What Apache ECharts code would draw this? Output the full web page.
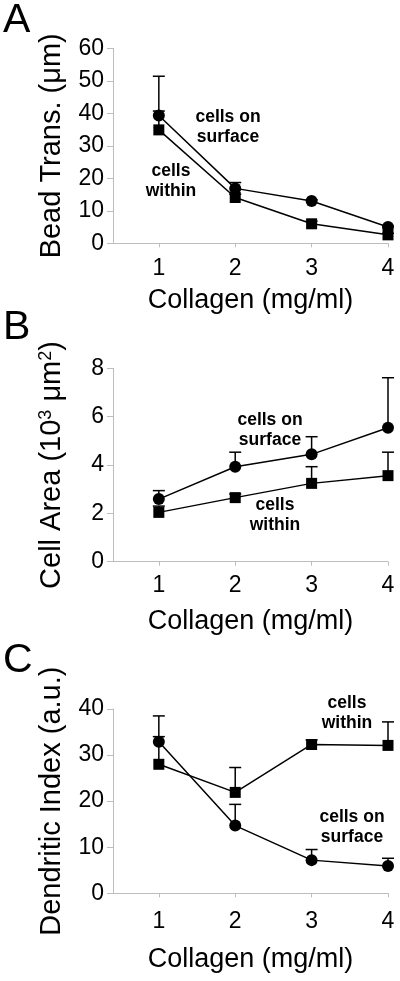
<!DOCTYPE html>
<html>
<head>
<meta charset="utf-8">
<script src="https://cdn.jsdelivr.net/npm/echarts@6/dist/echarts.min.js"></script>
<style>html,body{margin:0;padding:0;background:#fff}#c{width:400px;height:981px}</style>
</head>
<body>
<div id="c"></div>
<script>
const xValues = [1, 2, 3, 4];
const xTickLabels = [1, 2, 3, 4];

// Panel A: Bead translocation (um)
const beadSurface = [39.3, 16.9, 13.0, 5.0];
const beadSurfaceErr = [12.1, 1.8, 0.4, 0.3];
const beadWithin = [34.9, 14.1, 6.0, 2.6];
const beadWithinErr = [5.8, 1.0, 0.8, 0.5];

// Panel B: Cell area (10^3 um^2)
const areaSurface = [2.59, 3.93, 4.44, 5.54];
const areaSurfaceErr = [0.35, 0.6, 0.73, 2.07];
const areaWithin = [2.04, 2.65, 3.24, 3.56];
const areaWithinErr = [0.26, 0.15, 0.69, 0.97];

// Panel C: Dendritic index (a.u.)
const dendSurface = [32.9, 14.7, 7.2, 5.9];
const dendSurfaceErr = [5.6, 4.6, 2.3, 1.7];
const dendWithin = [28.0, 21.9, 32.3, 32.1];
const dendWithinErr = [6.0, 5.4, 1.0, 5.1];

const FONT = 'Liberation Sans, Arial, sans-serif';
const AXIS_GRAY = '#bdbdbd';

function pts(vals) { return xValues.map((x, i) => [x, vals[i]]); }
function errPts(vals, errs) { return xValues.map((x, i) => [x, vals[i], errs[i]]); }

function errSeries(idx, vals, errs) {
  return {
    type: 'custom', xAxisIndex: idx, yAxisIndex: idx, z: 1, silent: true,
    data: errPts(vals, errs),
    renderItem: function (params, api) {
      const x = api.value(0), m = api.value(1), e = api.value(2);
      const p0 = api.coord([x, m]);
      const p1 = api.coord([x, m + e]);
      const st = { stroke: '#000', lineWidth: 1.5 };
      return {
        type: 'group',
        children: [
          { type: 'line', shape: { x1: p0[0], y1: p0[1], x2: p1[0], y2: p1[1] }, style: st },
          { type: 'line', shape: { x1: p1[0] - 6, y1: p1[1], x2: p1[0] + 6, y2: p1[1] }, style: st }
        ]
      };
    }
  };
}
function lineSeries(idx, vals, sym) {
  return {
    type: 'line', xAxisIndex: idx, yAxisIndex: idx, z: 3,
    data: pts(vals), symbol: sym, symbolSize: sym === 'circle' ? 12 : 11,
    itemStyle: { color: '#000' }, lineStyle: { color: '#000', width: 1.5 },
    animation: false
  };
}

const grids = [
  { left: 113, top: 48.3, width: 275, height: 195 },
  { left: 113, top: 368.3, width: 275, height: 193.4 },
  { left: 113, top: 709, width: 275, height: 184.3 }
];
const labelMargins = [14, 12, 17];
const nameGapsX = [44, 46, 53];

const xAxes = grids.map((g, i) => ({
  type: 'value', gridIndex: i, min: 0.4, max: 4,
  name: 'Collagen (mg/ml)', nameLocation: 'middle', nameGap: nameGapsX[i],
  nameTextStyle: { fontSize: 27, fontFamily: FONT, color: '#000' },
  axisLine: { lineStyle: { color: AXIS_GRAY, width: 1 } },
  axisTick: { show: true, customValues: xTickLabels, length: 4, lineStyle: { color: AXIS_GRAY } },
  axisLabel: { customValues: xTickLabels, fontSize: 23, fontFamily: FONT, color: '#000', margin: labelMargins[i] },
  splitLine: { show: false }
}));

const yCommon = {
  type: 'value', min: 0, nameLocation: 'middle', nameRotate: 90, nameGap: 47,
  nameTextStyle: { fontSize: 29, fontFamily: FONT, color: '#000' },
  axisLine: { show: true, lineStyle: { color: AXIS_GRAY, width: 1 } },
  axisTick: { show: true, length: 6, lineStyle: { color: AXIS_GRAY } },
  axisLabel: { fontSize: 23, fontFamily: FONT, color: '#000', margin: 9 },
  splitLine: { show: false }
};
const yAxes = [
  Object.assign({}, yCommon, { gridIndex: 0, max: 60, interval: 10, name: 'Bead Trans. (μm)' }),
  Object.assign({}, yCommon, {
    gridIndex: 1, max: 8, interval: 2,
    name: 'Cell Area (10{sup|3} μm{sup|2})',
    nameTextStyle: {
      fontSize: 29, fontFamily: FONT, color: '#000',
      rich: { sup: { fontSize: 18, fontFamily: FONT, color: '#000', verticalAlign: 'top', lineHeight: 29 } }
    }
  }),
  Object.assign({}, yCommon, { gridIndex: 2, max: 40, interval: 10, name: 'Dendritic Index (a.u.)' })
];

function txt(x, y, t, size, bold) {
  return {
    type: 'text', x: x, y: y, z: 10,
    style: { text: t, fontSize: size, fontWeight: bold ? 'bold' : 'normal', fontFamily: FONT, fill: '#000', align: 'center', verticalAlign: 'middle', lineHeight: 20 }
  };
}

const option = {
  animation: false,
  backgroundColor: '#fff',
  grid: grids,
  xAxis: xAxes,
  yAxis: yAxes,
  graphic: [
    { type: 'text', x: 3, y: 0, style: { text: 'A', fontSize: 41, fontFamily: FONT, fill: '#000' } },
    { type: 'text', x: 3, y: 307, style: { text: 'B', fontSize: 41, fontFamily: FONT, fill: '#000' } },
    { type: 'text', x: 3, y: 640, style: { text: 'C', fontSize: 41, fontFamily: FONT, fill: '#000' } },
    txt(228, 127, 'cells on\nsurface', 17.5, true),
    txt(171, 181, 'cells\nwithin', 17.5, true),
    txt(270, 430, 'cells on\nsurface', 17.5, true),
    txt(275, 515, 'cells\nwithin', 17.5, true),
    txt(347, 713, 'cells\nwithin', 17.5, true),
    txt(352, 827, 'cells on\nsurface', 17.5, true)
  ],
  series: [
    errSeries(0, beadSurface, beadSurfaceErr),
    errSeries(0, beadWithin, beadWithinErr),
    lineSeries(0, beadSurface, 'circle'),
    lineSeries(0, beadWithin, 'rect'),
    errSeries(1, areaSurface, areaSurfaceErr),
    errSeries(1, areaWithin, areaWithinErr),
    lineSeries(1, areaSurface, 'circle'),
    lineSeries(1, areaWithin, 'rect'),
    errSeries(2, dendSurface, dendSurfaceErr),
    errSeries(2, dendWithin, dendWithinErr),
    lineSeries(2, dendSurface, 'circle'),
    lineSeries(2, dendWithin, 'rect')
  ]
};
const chart = echarts.init(document.getElementById('c'), null, { renderer: 'canvas' });
chart.setOption(option);
</script>
</body>
</html>
